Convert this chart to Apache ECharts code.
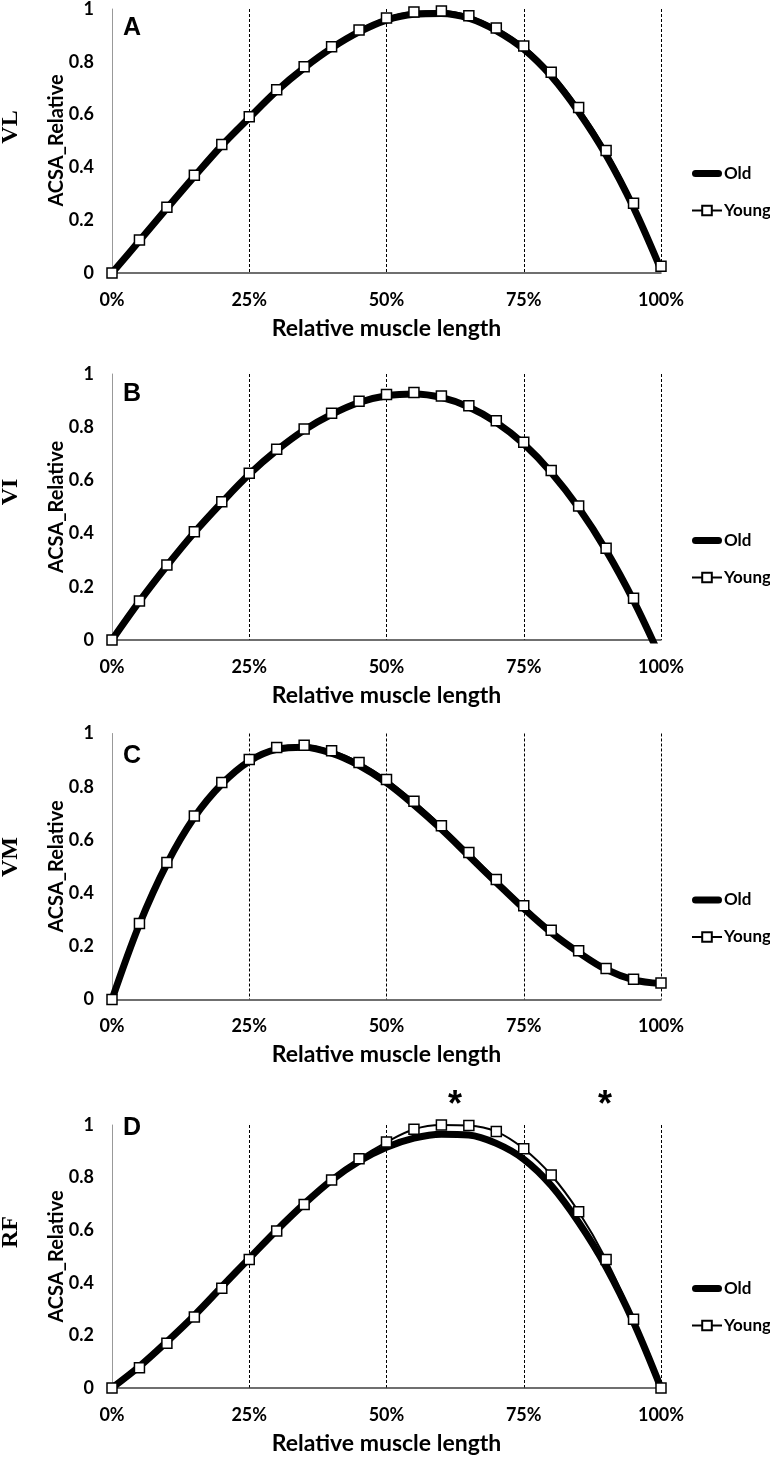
<!DOCTYPE html>
<html>
<head>
<meta charset="utf-8">
<script src="https://cdn.jsdelivr.net/npm/echarts@6/dist/echarts.min.js"></script>
<style>
html,body{margin:0;padding:0;background:#fff;}
#c{width:770px;height:1458px;}
</style>
</head>
<body>
<div id="c"></div>
<script>
// ---- data ----
const xValues = [0,5,10,15,20,25,30,35,40,45,50,55,60,65,70,75,80,85,90,95,100];
const xTicks = ['0%','25%','50%','75%','100%'];
const panelLetters = ['A','B','C','D'];
const muscleNames = ['VL','VI','VM','RF'];
const seriesNames = ['Old','Young'];
const xTitle = 'Relative muscle length';
const yTitle = 'ACSA_Relative';

const vlOld   = [0,0.122,0.245,0.366,0.483,0.588,0.690,0.777,0.852,0.913,0.958,0.980,0.983,0.965,0.918,0.848,0.746,0.610,0.447,0.248,0.012];
const vlYoung = [0,0.125,0.249,0.370,0.487,0.592,0.694,0.781,0.857,0.920,0.966,0.989,0.992,0.974,0.928,0.860,0.760,0.627,0.464,0.264,0.026];

const viOld   = [0,0.145,0.279,0.404,0.517,0.623,0.713,0.789,0.848,0.893,0.918,0.925,0.912,0.876,0.818,0.737,0.630,0.497,0.337,0.148,-0.07];
const viYoung = [0,0.147,0.282,0.407,0.520,0.627,0.717,0.793,0.852,0.898,0.923,0.930,0.917,0.881,0.824,0.743,0.637,0.504,0.345,0.157,-0.06];

const vmOld   = [0,0.283,0.510,0.685,0.810,0.896,0.940,0.948,0.926,0.880,0.815,0.732,0.640,0.540,0.440,0.342,0.252,0.177,0.113,0.074,0.060];
const vmYoung = [0,0.286,0.515,0.690,0.816,0.902,0.947,0.956,0.935,0.891,0.827,0.745,0.653,0.553,0.451,0.352,0.260,0.183,0.117,0.076,0.062];

const rfOld   = [0,0.082,0.176,0.276,0.385,0.493,0.600,0.700,0.790,0.862,0.915,0.950,0.965,0.962,0.930,0.870,0.770,0.630,0.460,0.250,0];
const rfYoung = [0,0.077,0.170,0.270,0.379,0.489,0.597,0.698,0.791,0.872,0.935,0.984,1.000,0.998,0.975,0.910,0.810,0.670,0.489,0.261,0];

const yTicks = [0,0.2,0.4,0.6,0.8,1];
const starLabel = '*';
const starX = [62.5, 89.8];

// ---- layout ----
const panels = [
  {old: vlOld, young: vlYoung, top: 8,     bottom: 273,   letterTop: 16,   nameY: 127},
  {old: viOld, young: viYoung, top: 374,   bottom: 640,   letterTop: 382,  nameY: 492},
  {old: vmOld, young: vmYoung, top: 733.5, bottom: 999.5, letterTop: 744,  nameY: 857},
  {old: rfOld, young: rfYoung, top: 1125,  bottom: 1388,  letterTop: 1116, nameY: 1232}
];
const LEFT = 112, WIDTH = 549;
const FONT = 'Lato, "Open Sans", sans-serif';
const OLD_ICON = 'path://M3.5,0 L26.5,0 A3.5,3.5 0 0 1 26.5,7 L3.5,7 A3.5,3.5 0 0 1 3.5,0 Z';

const chart = echarts.init(document.getElementById('c'), null, {renderer: 'canvas'});

const grids = [], xAxes = [], yAxes = [], series = [], legends = [], graphics = [];
panels.forEach((p, i) => {
  grids.push({left: LEFT, width: WIDTH, top: p.top, height: p.bottom - p.top, containLabel: false});
  xAxes.push({
    type: 'value', gridIndex: i, min: 0, max: 100, interval: 25,
    axisLine: {show: true, lineStyle: {color: '#404040', width: 1.5}},
    axisTick: {show: false},
    axisLabel: {
      margin: 18, color: '#000', fontFamily: FONT, fontWeight: 'bold', fontSize: 18,
      formatter: v => xTicks[Math.round(v / 25)]
    },
    splitLine: {show: true, showMinLine: false, showMaxLine: true, lineStyle: {color: '#000', width: 1, type: [3, 2]}},
    name: xTitle, nameLocation: 'middle', nameGap: 44,
    nameTextStyle: {color: '#000', fontFamily: FONT, fontWeight: 'bold', fontSize: 23}
  });
  yAxes.push({
    type: 'value', gridIndex: i, min: 0, max: 1, interval: 0.2,
    axisLine: {show: true, lineStyle: {color: '#999', width: 1}},
    axisTick: {show: false},
    splitLine: {show: false},
    axisLabel: {
      margin: 18, color: '#000', fontFamily: FONT, fontWeight: 'bold', fontSize: 18,
      formatter: v => String(yTicks[Math.round(v / 0.2)])
    }
  });
  series.push({
    name: seriesNames[0], type: 'line', xAxisIndex: i, yAxisIndex: i,
    data: xValues.map((x, k) => [x, p.old[k]]),
    smooth: 0.35, showSymbol: false, symbol: 'none',
    lineStyle: {color: '#000', width: 7}, itemStyle: {color: '#000'},
    clip: true, z: 2
  });
  series.push({
    name: seriesNames[1], type: 'line', xAxisIndex: i, yAxisIndex: i,
    data: xValues.map((x, k) => [x, p.young[k]]),
    smooth: 0.35, symbol: 'rect', symbolSize: 10, showSymbol: true,
    lineStyle: {color: '#000', width: 2},
    itemStyle: {color: '#fff', borderColor: '#000', borderWidth: 1.5},
    clip: true, z: 3
  });
  legends.push({
    data: [{name: seriesNames[0], icon: OLD_ICON, itemStyle: {color: '#000'}}, {name: seriesNames[1]}],
    orient: 'vertical', left: 686, top: p.bottom - 113,
    itemWidth: 30, itemHeight: 12, itemGap: 20, symbolKeepAspect: true,
    textStyle: {color: '#000', fontFamily: FONT, fontWeight: 'bold', fontSize: 17, padding: [0,0,0,-3]},
    selectedMode: false
  });
  graphics.push({
    type: 'text', left: 123, top: p.letterTop,
    style: {text: panelLetters[i], fill: '#000', font: 'bold 25px "Liberation Sans", Arial, sans-serif'}
  });
  graphics.push({
    type: 'text', x: 11, y: p.nameY, rotation: Math.PI / 2,
    style: {text: muscleNames[i], fill: '#000', font: 'bold 24px "Liberation Serif", "Times New Roman", serif',
            align: 'center', verticalAlign: 'middle'}
  });
  graphics.push({
    type: 'text', x: 57, y: (p.top + p.bottom) / 2, rotation: Math.PI / 2,
    style: {text: yTitle, fill: '#000', font: 'bold 20px Lato, "Open Sans", sans-serif',
            align: 'center', verticalAlign: 'middle'}
  });
});

chart.setOption({
  animation: false,
  backgroundColor: '#fff',
  grid: grids, xAxis: xAxes, yAxis: yAxes, series: series, legend: legends
});

// significance stars above panel D, placed at data x positions
starX.forEach(xv => {
  const px = chart.convertToPixel({xAxisIndex: 3}, xv);
  graphics.push({
    type: 'text', x: px, y: 1106,
    style: {text: starLabel, fill: '#000', font: 'bold 36px "Liberation Sans", Arial, sans-serif',
            align: 'center', verticalAlign: 'middle'}
  });
});
chart.setOption({graphic: graphics});
</script>
</body>
</html>
